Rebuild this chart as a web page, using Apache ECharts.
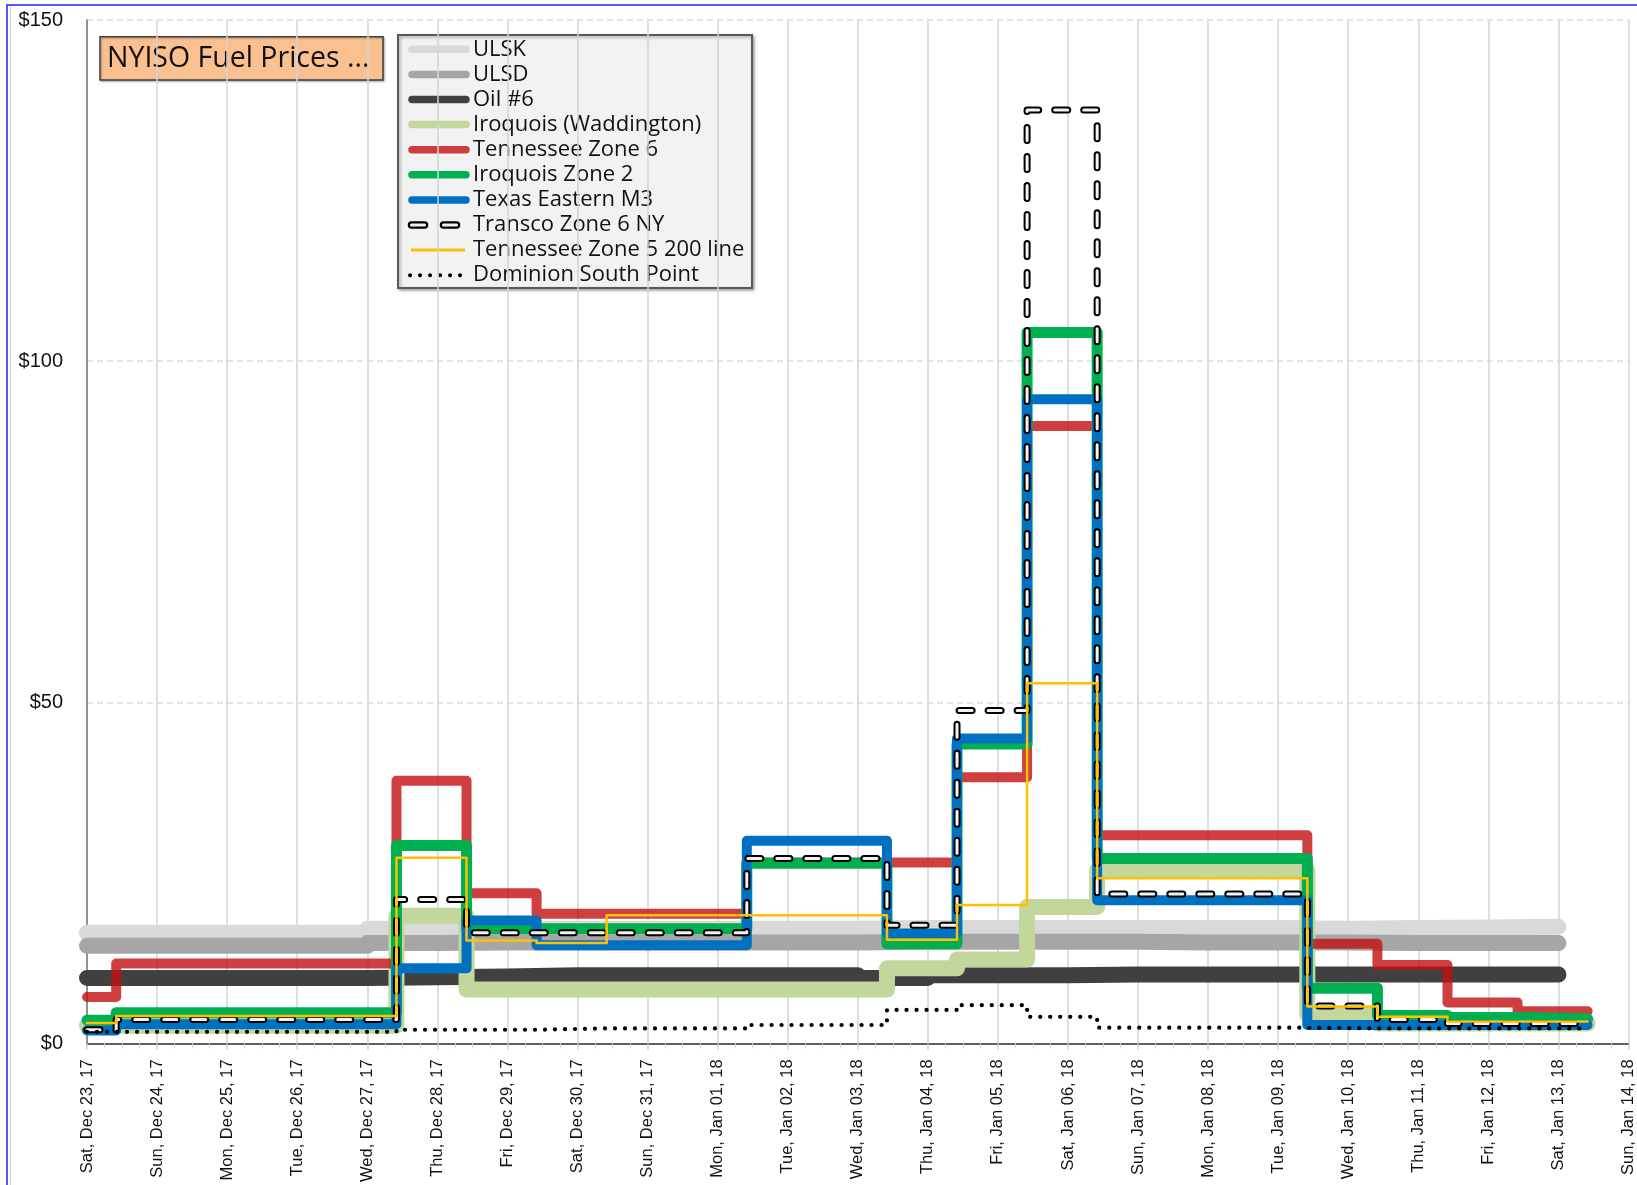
<!DOCTYPE html>
<html>
<head>
<meta charset="utf-8">
<script src="https://cdn.jsdelivr.net/npm/echarts@6/dist/echarts.min.js"></script>
<style>
html,body{margin:0;padding:0;background:#fff;}
#c{width:1637px;height:1185px;}
</style>
</head>
<body>
<div id="c"></div>
<script>
// ---------- DATA ----------
// Day tick labels (x = day index, 0 = Sat Dec 23 2017)
const DAY_LABELS = [
  "Sat, Dec 23, 17","Sun, Dec 24, 17","Mon, Dec 25, 17","Tue, Dec 26, 17","Wed, Dec 27, 17",
  "Thu, Dec 28, 17","Fri, Dec 29, 17","Sat, Dec 30, 17","Sun, Dec 31, 17","Mon, Jan 01, 18",
  "Tue, Jan 02, 18","Wed, Jan 03, 18","Thu, Jan 04, 18","Fri, Jan 05, 18","Sat, Jan 06, 18",
  "Sun, Jan 07, 18","Mon, Jan 08, 18","Tue, Jan 09, 18","Wed, Jan 10, 18","Thu, Jan 11, 18",
  "Fri, Jan 12, 18","Sat, Jan 13, 18","Sun, Jan 14, 18"
];
const Y_TICKS = [0, 50, 100, 150];

// Oil products: one value per calendar day, Dec 23 .. Jan 12 (held to Jan 13)
const ULSK = [16.2,16.2,16.2,16.2,16.8,16.8,16.8,16.8,16.8,16.8,16.8,16.9,16.9,16.9,16.9,16.9,16.9,16.8,16.9,17.0,17.1];
const ULSD = [14.3,14.3,14.3,14.3,14.7,14.8,14.8,14.8,14.8,14.8,14.8,14.9,14.9,14.9,14.9,14.8,14.8,14.8,14.7,14.7,14.7];
const OIL6 = [9.6,9.6,9.6,9.6,9.7,9.8,10.0,10.0,10.0,10.0,10.0,9.6,10.0,10.0,10.1,10.1,10.1,10.1,10.1,10.1,10.1];

// Natural gas: one value per gas day (gas day starts 10:00); first value = tail of previous gas day
const IROQ_WADD = [2.6,2.6,2.6,2.6,2.6,18.7,7.9,7.9,7.9,7.9,7.9,7.9,11.0,12.3,20.0,25.4,25.4,25.4,4.2,2.9,2.9,2.9];
const TENN_Z6   = [6.8,11.7,11.7,11.7,11.7,38.5,22.0,19.0,19.0,19.0,26.5,26.5,26.5,39.0,90.5,30.5,30.5,30.5,14.6,11.5,6.0,4.7];
const IROQ_Z2   = [3.4,4.5,4.5,4.5,4.5,29.0,16.8,16.8,16.8,16.8,26.4,26.4,14.6,43.9,104.2,27.1,27.1,27.1,8.1,4.1,3.8,3.6];
const TETCO_M3  = [1.9,2.8,2.8,2.8,2.8,11.0,18.0,14.4,14.4,14.4,29.7,29.7,16.1,44.7,94.4,21.0,21.0,21.0,2.7,2.7,2.7,2.7];
const TRANSCO6  = [2.0,3.5,3.5,3.5,3.5,21.1,16.2,16.2,16.2,16.2,27.1,27.1,17.3,48.8,136.8,21.9,21.9,21.9,5.5,3.5,2.9,2.9];
const TENN_Z5   = [3.0,4.0,4.0,4.0,4.0,27.2,15.1,14.7,18.8,18.8,18.8,18.8,15.2,20.3,52.8,24.2,24.2,24.2,5.4,3.9,3.2,3.2];
const DOM_SP    = [1.7,1.7,1.7,1.7,1.7,2.0,2.0,2.2,2.2,2.2,2.7,2.7,4.9,5.6,3.9,2.3,2.3,2.3,2.2,2.2,2.2,2.2];

const SERIES_NAMES = ["ULSK","ULSD","Oil #6","Iroquois (Waddington)","Tennessee Zone 6","Iroquois Zone 2",
  "Texas Eastern M3","Transco Zone 6 NY","Tennessee Zone 5 200 line","Dominion South Point"];

// ---------- BUILD ----------
const GAS_OFFSET = 10/24;
function oilPoints(vals){
  const pts = vals.map((v,i)=>[i, v]);
  pts.push([vals.length, vals[vals.length-1]]);
  return pts;
}
function gasPoints(vals){
  const pts = [[0, vals[0]]];
  for (let k = 1; k < vals.length; k++) pts.push([k - 1 + GAS_OFFSET, vals[k]]);
  pts.push([vals.length - 1 + GAS_OFFSET, vals[vals.length-1]]);
  return pts;
}

const STYLE = {
  "ULSK": {color:'#d9d9d9', width:16},
  "ULSD": {color:'#a6a6a6', width:16},
  "Oil #6": {color:'#404040', width:16},
  "Iroquois (Waddington)": {color:'#c3d69b', width:16},
  "Tennessee Zone 6": {color:'rgba(195,15,15,0.8)', width:10},
  "Iroquois Zone 2": {color:'#00b050', width:11},
  "Texas Eastern M3": {color:'#0070c0', width:10},
  "Transco Zone 6 NY": {color:'#000000', width:7, type:[13,16]},
  "Tennessee Zone 5 200 line": {color:'#ffc000', width:2.5},
  "Dominion South Point": {color:'#000000', width:4.2, type:[0.1,9.9]}
};

function mk(name, data, st, extraName){
  return {
    name: extraName || name, type:'line', data, step:'end',
    symbol:'none', showSymbol:false, silent:true, animation:false, clip:true,
    lineStyle:{color:st.color, width:st.width, type: st.type || 'solid', cap:'round', join:'round'}
  };
}

const series = [
  mk("ULSK", oilPoints(ULSK), STYLE["ULSK"]),
  mk("ULSD", oilPoints(ULSD), STYLE["ULSD"]),
  mk("Oil #6", oilPoints(OIL6), STYLE["Oil #6"]),
  mk("Iroquois (Waddington)", gasPoints(IROQ_WADD), STYLE["Iroquois (Waddington)"]),
  mk("Tennessee Zone 6", gasPoints(TENN_Z6), STYLE["Tennessee Zone 6"]),
  mk("Iroquois Zone 2", gasPoints(IROQ_Z2), STYLE["Iroquois Zone 2"]),
  mk("Texas Eastern M3", gasPoints(TETCO_M3), STYLE["Texas Eastern M3"]),
  mk("Transco Zone 6 NY", gasPoints(TRANSCO6), STYLE["Transco Zone 6 NY"]),
  mk("Transco Zone 6 NY", gasPoints(TRANSCO6), {color:'#f2f2f2', width:3, type:[13,16]}, "Transco inner"),
  mk("Tennessee Zone 5 200 line", gasPoints(TENN_Z5), STYLE["Tennessee Zone 5 200 line"]),
  mk("Dominion South Point", gasPoints(DOM_SP), STYLE["Dominion South Point"])
];

// ---------- Legend (drawn as graphic) ----------
const LEG_X = 398, LEG_Y = 35, LEG_W = 354, LEG_H = 253;
const legendEls = [{
  type:'rect', shape:{x:LEG_X, y:LEG_Y, width:LEG_W, height:LEG_H},
  style:{fill:'#f2f2f2', stroke:'#595959', lineWidth:2, shadowBlur:3, shadowOffsetX:1.5, shadowOffsetY:1.5, shadowColor:'rgba(0,0,0,0.35)'}
}];
SERIES_NAMES.forEach((nm, i) => {
  const y = 49.3 + i * 25.1;
  const st = STYLE[nm];
  if (nm === "Transco Zone 6 NY") {
    legendEls.push({type:'line', shape:{x1:411.5,y1:y,x2:456.5,y2:y}, style:{stroke:'#000', lineWidth:7.5, lineCap:'round', lineDash:[13,19]}});
    legendEls.push({type:'line', shape:{x1:411.5,y1:y,x2:456.5,y2:y}, style:{stroke:'#f2f2f2', lineWidth:3, lineCap:'round', lineDash:[13,19]}});
  } else if (nm === "Dominion South Point") {
    legendEls.push({type:'line', shape:{x1:410,y1:y,x2:462,y2:y}, style:{stroke:'#000', lineWidth:4, lineCap:'round', lineDash:[0.1,9.9]}});
  } else if (nm === "Tennessee Zone 5 200 line") {
    legendEls.push({type:'line', shape:{x1:411,y1:y,x2:465,y2:y}, style:{stroke:st.color, lineWidth:3}});
  } else {
    legendEls.push({type:'line', shape:{x1:412,y1:y,x2:466,y2:y}, style:{stroke:st.color, lineWidth:7.5, lineCap:'round'}});
  }
  legendEls.push({type:'text', style:{x:473, y:y, text:nm, fill:'#111', font:'22px "Open Sans"', verticalAlign:'middle', align:'left'}});
});

const option = {
  backgroundColor:'#ffffff',
  animation:false,
  grid:{left:87, right:1, top:20, bottom:138, containLabel:false},
  xAxis:[{
    type:'value', min:0, max:22, interval:1,
    axisLine:{show:true, lineStyle:{color:'#bfbfbf', width:1.5}},
    axisTick:{show:true, length:6, lineStyle:{color:'#d0d0d0', width:1.5}},
    minorTick:{show:true, splitNumber:4, length:5, lineStyle:{color:'#d9d9d9', width:1}},
    splitLine:{show:true, lineStyle:{color:'#d4d4d4', width:1.5}},
    axisLabel:{rotate:90, margin:16, fontSize:16.5, fontFamily:'"Liberation Sans", Arial, sans-serif', color:'#111',
      formatter:(v)=> DAY_LABELS[Math.round(v)] || ''}
  },{
    type:'value', min:0, max:22, position:'top',
    axisLine:{show:true, lineStyle:{color:'#606060', width:2}},
    axisTick:{show:false}, axisLabel:{show:false}, splitLine:{show:false}
  }],
  yAxis:[{
    type:'value', min:Y_TICKS[0], max:Y_TICKS[Y_TICKS.length-1], interval:50,
    axisLine:{show:true, lineStyle:{color:'#bfbfbf', width:1.5}},
    axisTick:{show:false},
    splitLine:{show:true, lineStyle:{color:'#dcdcdc', width:1.5, type:[6,4]}},
    axisLabel:{margin:24, fontSize:20, padding:[4,0,0,0], fontFamily:'"Liberation Sans", Arial, sans-serif', color:'#111',
      formatter:(v)=>'$' + v}
  },{
    type:'value', min:0, max:150, position:'right',
    axisLine:{show:true, lineStyle:{color:'#808080', width:1.5}},
    axisTick:{show:false}, axisLabel:{show:false}, splitLine:{show:false}
  }],
  series: series,
  graphic:[
    {type:'rect', z:200, silent:true, shape:{x:7, y:5, width:1650, height:1200}, style:{fill:null, stroke:'#2020ff', lineWidth:1.5}},
    {type:'line', z:200, silent:true, shape:{x1:10.5, y1:6, x2:10.5, y2:1185}, style:{stroke:'#cfcfcf', lineWidth:1}},
    {type:'group', z:150, children:[
      {type:'rect', shape:{x:100, y:36.7, width:283, height:43.3},
       style:{fill:'#fac090', stroke:'#404040', lineWidth:1.5, shadowBlur:2, shadowOffsetX:1, shadowOffsetY:1, shadowColor:'rgba(0,0,0,0.3)'}},
      {type:'text', style:{x:107, y:59, text:'NYISO Fuel Prices ...', fill:'#111', font:'28.5px "Open Sans"', verticalAlign:'middle', align:'left'}}
    ]},
    {type:'group', z:150, children: legendEls}
  ]
};

const chart = echarts.init(document.getElementById('c'));
chart.setOption(option);
</script>
</body>
</html>
